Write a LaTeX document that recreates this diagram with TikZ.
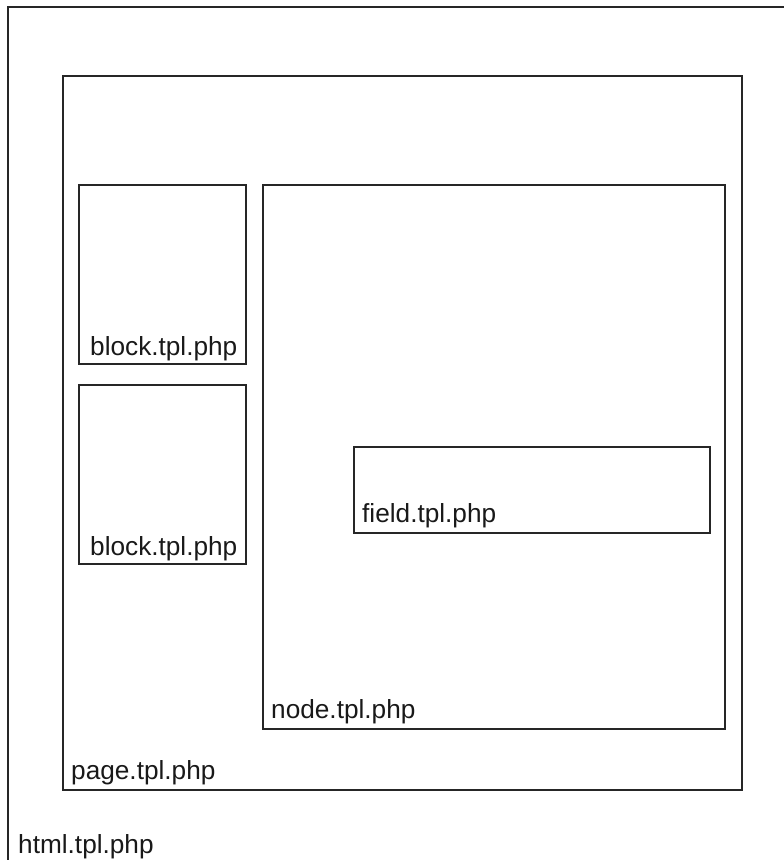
\documentclass[tikz,border=0pt]{standalone}
\usepackage{fontspec}
\setmainfont{Liberation Sans}
\begin{document}
\begin{tikzpicture}[x=1pt,y=-1pt,
  box/.style={draw=black!85, line width=1.7pt, inner sep=0pt, outer sep=0pt, anchor=north west},
  lab/.style={font=\fontsize{26.2}{29}\selectfont, text=black!90, inner sep=0pt, anchor=base west}]
\useasboundingbox (0,0) rectangle (784,860);
% outer html frame (open on right and bottom)
\coordinate (htmlbl) at (8,862);
\coordinate (htmltl) at (8,7);
\coordinate (htmltr) at (786,7);
\draw[black!85, line width=1.7pt] (htmlbl) -- (htmltl) -- (htmltr);
\node[lab] (htmllab) at (18,853) {html.tpl.php};
% page
\node[box, minimum width=679pt, minimum height=714pt] (page) at (63,76) {};
\node[lab] (pagelab) at ([xshift=8pt,yshift=11pt]page.south west) {page.tpl.php};
% blocks
\node[box, minimum width=167pt, minimum height=179pt] (block1) at (79,185) {};
\node[lab] (block1lab) at ([xshift=11pt,yshift=9pt]block1.south west) {block.tpl.php};
\node[box, minimum width=167pt, minimum height=179pt] (block2) at (79,385) {};
\node[lab] (block2lab) at ([xshift=11pt,yshift=9pt]block2.south west) {block.tpl.php};
% node
\node[box, minimum width=462pt, minimum height=544pt] (node) at (263,185) {};
\node[lab] (nodelab) at ([xshift=8pt,yshift=11pt]node.south west) {node.tpl.php};
% field
\node[box, minimum width=356pt, minimum height=86pt] (field) at (354,447) {};
\node[lab] (fieldlab) at ([xshift=8pt,yshift=11pt]field.south west) {field.tpl.php};
\end{tikzpicture}
\end{document}
